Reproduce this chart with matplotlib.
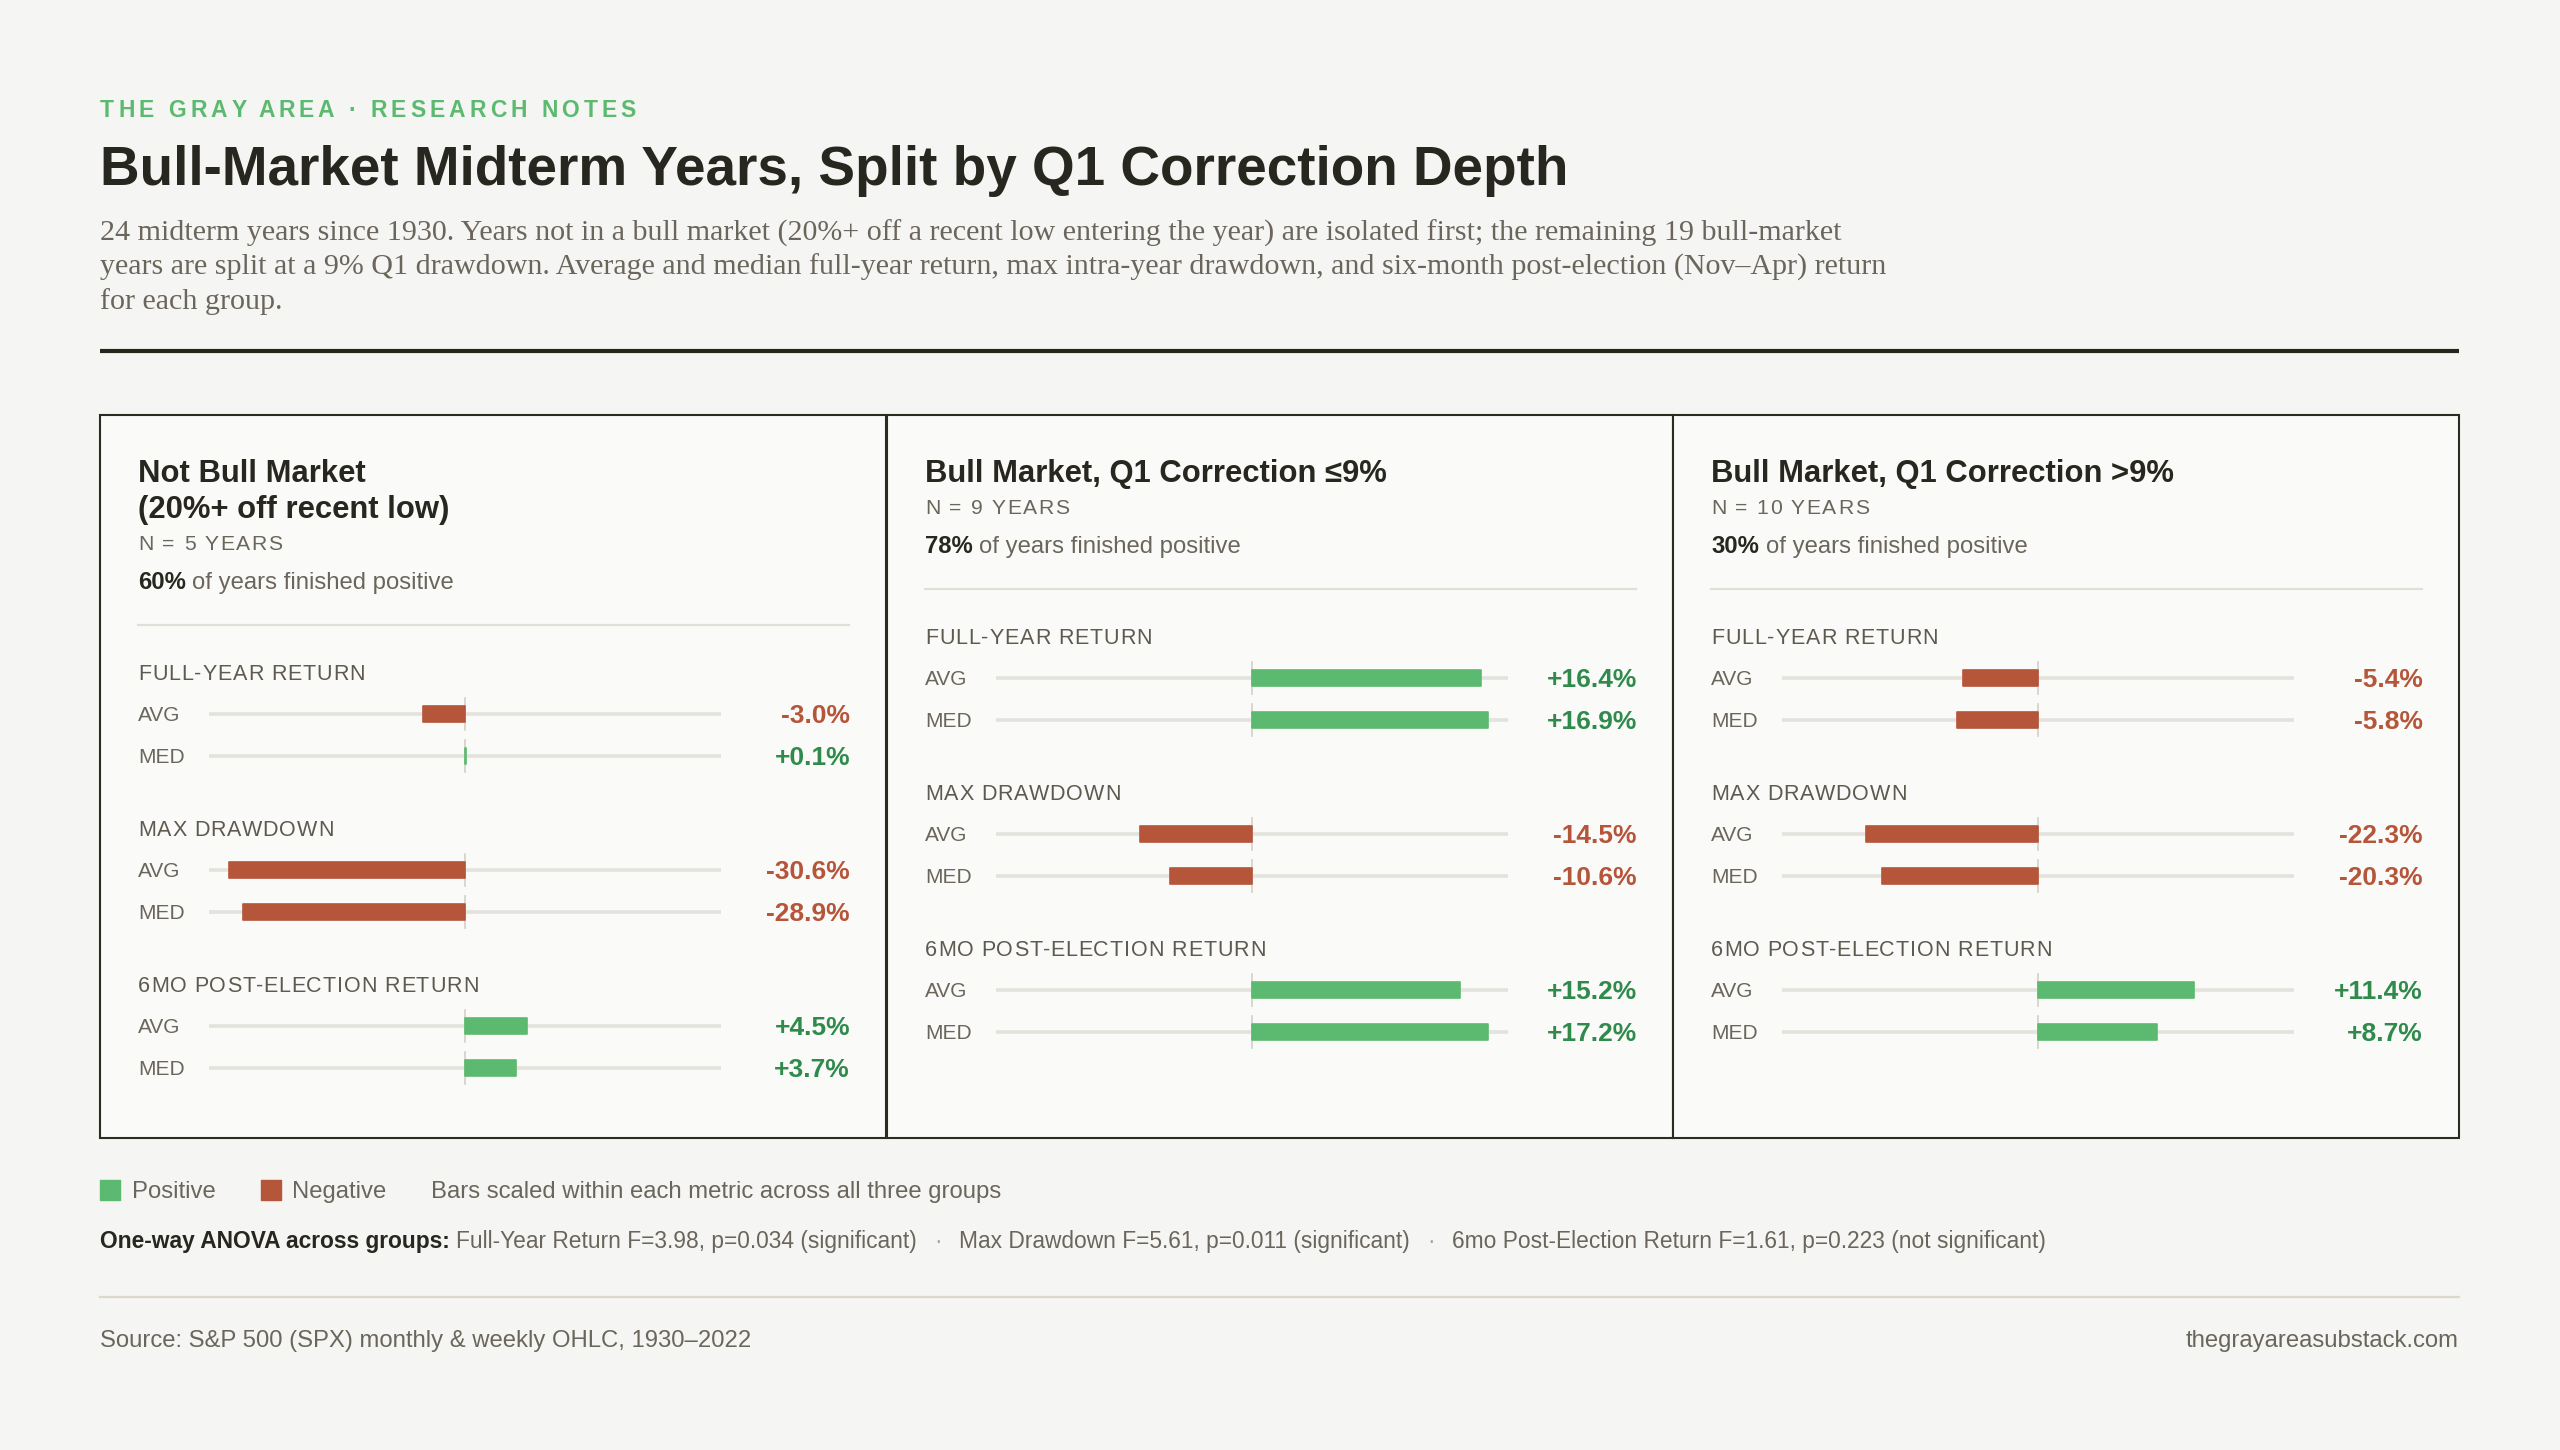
import matplotlib
matplotlib.use("Agg")
import matplotlib.pyplot as plt
from matplotlib.patches import Rectangle

# ---- data -------------------------------------------------------------
groups = ["Not Bull Market\n(20%+ off recent low)",
          "Bull Market, Q1 Correction ≤9%",
          "Bull Market, Q1 Correction >9%"]
n_years = [5, 9, 10]
pct_positive = [60, 78, 30]

metrics = ["FULL-YEAR RETURN", "MAX DRAWDOWN", "6MO POST-ELECTION RETURN"]
stat_labels = ["AVG", "MED"]

full_year_avg = [-3.0, 16.4, -5.4]
full_year_med = [0.1, 16.9, -5.8]
drawdown_avg = [-30.6, -14.5, -22.3]
drawdown_med = [-28.9, -10.6, -20.3]
post_election_avg = [4.5, 15.2, 11.4]
post_election_med = [3.7, 17.2, 8.7]

anova_items = ["Full-Year Return F=3.98, p=0.034 (significant)",
               "Max Drawdown F=5.61, p=0.011 (significant)",
               "6mo Post-Election Return F=1.61, p=0.223 (not significant)"]

kicker = "THE GRAY AREA · RESEARCH NOTES"
title = "Bull-Market Midterm Years, Split by Q1 Correction Depth"
subtitle_lines = [
    "24 midterm years since 1930. Years not in a bull market (20%+ off a recent low entering the year) are isolated first; the remaining 19 bull-market",
    "years are split at a 9% Q1 drawdown. Average and median full-year return, max intra-year drawdown, and six-month post-election (Nov\u2013Apr) return",
    "for each group.",
]
source = "Source: S&P 500 (SPX) monthly & weekly OHLC, 1930\u20132022"
site = "thegrayareasubstack.com"

metric_values = [(full_year_avg, full_year_med),
                 (drawdown_avg, drawdown_med),
                 (post_election_avg, post_election_med)]

# ---- style ------------------------------------------------------------
W, H = 2560, 1450
PAGE = "#f5f5f3"
PANEL = "#fafaf8"
INK = "#27261f"
GRAY = "#6b665c"
GREEN = "#5cba70"
GREEN_TXT = "#2f8a4c"
RED = "#b5553a"
TRACK = "#e3e2dc"
SANS = ["Liberation Sans", "DejaVu Sans"]
SERIF = ["Liberation Serif", "DejaVu Serif"]

plt.rcParams["font.family"] = SANS

fig = plt.figure(figsize=(W / 100, H / 100), dpi=100)
fig.patch.set_facecolor(PAGE)
bg = fig.add_axes([0, 0, 1, 1])
bg.set_xlim(0, W)
bg.set_ylim(H, 0)
bg.axis("off")
renderer = fig.canvas.get_renderer()


def text_width(s, **kw):
    t = bg.text(0, 0, s + "|", **kw)
    w1 = t.get_window_extent(renderer).width
    t.set_text("|")
    w2 = t.get_window_extent(renderer).width
    t.remove()
    return w1 - w2


def tracked(x, y, s, track=None, fit=None, **kw):
    """Draw text with letter spacing (px); or fit it to a total width."""
    if fit is not None:
        track = (fit - text_width(s, **kw)) / (len(s) - 1)
    for i, ch in enumerate(s):
        if ch == " ":
            continue
        bg.text(x + text_width(s[:i], **kw) + i * track, y, ch, va="baseline", **kw)


def mixed(x, y, parts, gap=None):
    """parts: list of (string, kwargs) drawn one after another."""
    for s, kw in parts:
        bg.text(x, y, s, va="baseline", **kw)
        x += text_width(s, **kw)
        if gap is not None:
            x += gap


# ---- header -----------------------------------------------------------
tracked(100, 117, kicker, fit=536, fontsize=16.5, fontweight="bold", color=GREEN)
bg.text(100, 185, title, fontsize=39.5, fontweight="bold", color=INK, va="baseline")
for i, line in enumerate(subtitle_lines):
    bg.text(100, 241 + i * 34, line, fontsize=21.6, family=SERIF, color=GRAY, va="baseline")
bg.plot([100, 2459], [351, 351], color="#23261a", lw=3, solid_capstyle="butt")

# ---- panels -----------------------------------------------------------
panel_x = [100, 887, 1673]
panel_w = 786
top, bottom = 415, 1138
for x0 in panel_x:
    bg.add_patch(Rectangle((x0, top), panel_w, bottom - top, facecolor=PANEL,
                           edgecolor="#2b2b22", lw=1.5))

for g, x0 in enumerate(panel_x):
    off = 36 * groups[g].count("\n")
    tx = x0 + 38
    for j, line in enumerate(groups[g].split("\n")):
        bg.text(tx, 482 + j * 36, line, fontsize=22.3, fontweight="bold", color=INK, va="baseline")
    tracked(tx, 514 + off, f"N = {n_years[g]} YEARS", track=1.6, fontsize=15.2, color=GRAY)
    space = text_width("a a", fontsize=17.2) - text_width("aa", fontsize=17.2)
    mixed(tx, 553 + off, [(f"{pct_positive[g]}%", dict(fontsize=17.2, fontweight="bold", color=INK)),
                          ("of years finished positive", dict(fontsize=17.2, color=GRAY))], gap=space)
    bg.plot([tx, x0 + 749], [589 + off, 589 + off], color="#e0dfd8", lw=1.6)

    for m, metric in enumerate(metrics):
        y_title = 644 + off + m * 156
        tracked(tx, y_title, metric, track=0.9, fontsize=15.5, color="#5e5a50")
        row_y = y_title + 34
        scale = max(abs(v) for pair in metric_values[m] for v in pair)
        lim = scale / 0.92
        ax = fig.add_axes([(x0 + 109) / W, 1 - (row_y + 63) / H, 512 / W, 84 / H])
        ax.set_xlim(-lim, lim)
        ax.set_ylim(1.5, -0.5)
        ax.axis("off")
        ax.patch.set_alpha(0)
        for r in range(2):
            v = metric_values[m][r][g]
            ax.axhline(r, color=TRACK, lw=2.6, zorder=1)
            ax.plot([0, 0], [r - 0.37, r + 0.37], color="#d3d0c6", lw=1.2, zorder=2)
            col = GREEN if v >= 0 else RED
            ax.barh(r, v, height=0.36, left=0, color=col, edgecolor=col, lw=1.2,
                    joinstyle="round", zorder=3)
            yy = row_y + r * 42
            bg.text(tx, yy + 7, stat_labels[r], fontsize=15, color=GRAY, va="baseline")
            bg.text(x0 + 750, yy + 9, f"{v:+.1f}%", fontsize=19, fontweight="bold",
                    color=GREEN_TXT if v >= 0 else RED, ha="right", va="baseline")

# ---- legend / notes ---------------------------------------------------
bg.add_patch(Rectangle((100, 1180), 20, 20, facecolor=GREEN, edgecolor=GREEN, lw=1, joinstyle="round"))
bg.text(132, 1198, "Positive", fontsize=17.2, color=GRAY, va="baseline")
bg.add_patch(Rectangle((261, 1180), 20, 20, facecolor=RED, edgecolor=RED, lw=1, joinstyle="round"))
bg.text(292, 1198, "Negative", fontsize=17.2, color=GRAY, va="baseline")
bg.text(431, 1198, "Bars scaled within each metric across all three groups", fontsize=17.2,
        color=GRAY, va="baseline")

note_kw = dict(fontsize=16.4, color=GRAY)
parts = [("One-way ANOVA across groups:", dict(fontsize=16.4, fontweight="bold", color=INK))]
for k, item in enumerate(anova_items):
    if k:
        parts.append(("\u00b7", dict(fontsize=16.4, color="#a8a398")))
    parts.append((item, note_kw))
gap = text_width("a a", **note_kw) - text_width("aa", **note_kw)
x = 100
for k, (s, kw) in enumerate(parts):
    bg.text(x, 1248, s, va="baseline", **kw)
    x += text_width(s, **kw) + (gap if k == 0 else gap * 2.7)

bg.plot([100, 2459], [1297, 1297], color="#dcd8cc", lw=1.6)
bg.text(100, 1347, source, fontsize=17.2, color=GRAY, va="baseline")
bg.text(2459, 1347, site, fontsize=17.2, color=GRAY, va="baseline", ha="right")

fig.savefig("out.png", dpi=100, facecolor=PAGE)
